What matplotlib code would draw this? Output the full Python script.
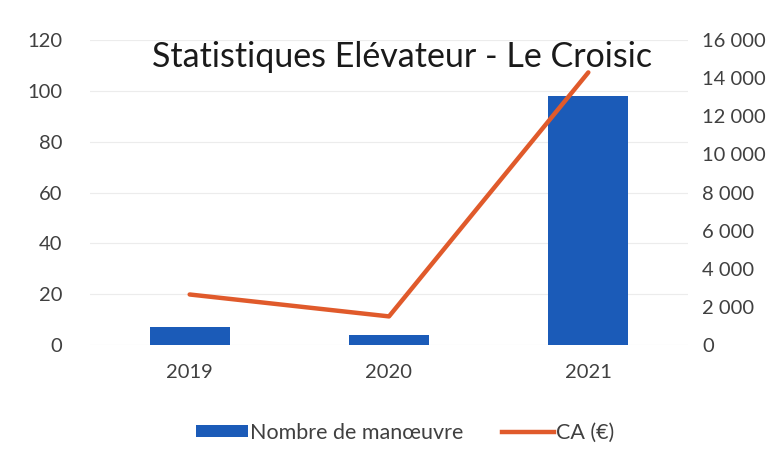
import matplotlib
matplotlib.use("Agg")
import matplotlib.pyplot as plt
from matplotlib.ticker import FuncFormatter
from matplotlib.lines import Line2D
from matplotlib.patches import Patch

years = ["2019", "2020", "2021"]
manoeuvres = [7, 4, 98]
ca = [2650, 1500, 14300]
left_ticks = [0, 20, 40, 60, 80, 100, 120]
right_ticks = [0, 2000, 4000, 6000, 8000, 10000, 12000, 14000, 16000]

plt.rcParams['font.family'] = ['Lato', 'DejaVu Sans']

bar_color = "#1B5BB8"
line_color = "#E05A2B"
text_color = "#404040"

fig = plt.figure(figsize=(7.83, 4.63), dpi=100)
ax = fig.add_axes([90/783, 1-345/463, 598/783, 305/463])
x = list(range(len(years)))
ax.bar(x, manoeuvres, width=0.4, color=bar_color, zorder=2)
ax.set_xlim(-0.5, 2.5)
ax.set_ylim(0, 120)
ax.set_yticks(left_ticks)
ax.set_xticks(x)
ax.set_xticklabels(years)
ax.grid(axis='y', color="#ececec", linewidth=0.8, zorder=0)
for s in ax.spines.values():
    s.set_visible(False)
ax.tick_params(axis='both', length=0, colors=text_color, labelsize=14.5)
ax.tick_params(axis='y', pad=20)
ax.tick_params(axis='x', pad=14)

ax2 = ax.twinx()
ax2.plot(x, ca, color=line_color, linewidth=3.2, solid_capstyle='round', zorder=3)
ax2.set_ylim(0, 16000)
ax2.set_yticks(right_ticks)
ax2.yaxis.set_major_formatter(FuncFormatter(lambda v, p: f"{int(v):,}".replace(",", " ")))
for s in ax2.spines.values():
    s.set_visible(False)
ax2.tick_params(axis='y', length=0, colors=text_color, labelsize=14.5, pad=10)

fig.text(402/783, 1-57/463, "Statistiques Elévateur - Le Croisic", ha='center', va='center',
         fontsize=24.5, color="#1a1a1a")

handles = [Patch(facecolor=bar_color, label="Nombre de manœuvre"),
           Line2D([0], [0], color=line_color, linewidth=3.2, label="CA (€)")]
fig.legend(handles=handles, loc='center', bbox_to_anchor=(405/783, 1-433/463), ncol=2,
           frameon=False, fontsize=15.5, handlelength=2.4, handleheight=0.5,
           columnspacing=1.8, handletextpad=0.1, labelcolor=text_color)

fig.savefig("out.png", dpi=100)
